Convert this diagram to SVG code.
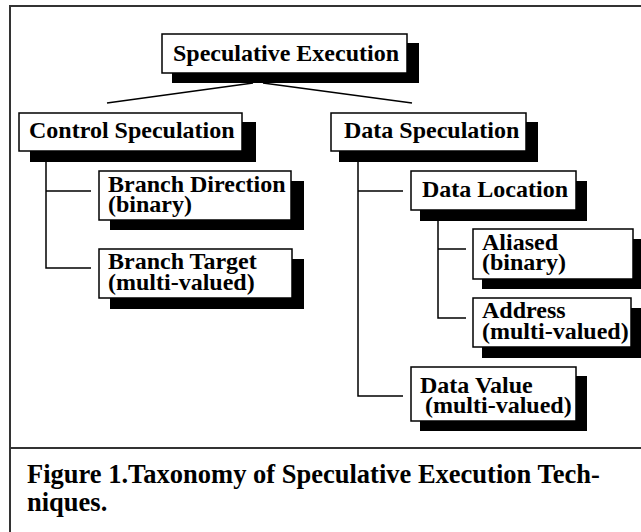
<svg xmlns="http://www.w3.org/2000/svg" width="641" height="532" viewBox="0 0 641 532">
  <style>
    .frame { fill: none; stroke: #333; stroke-width: 2; }
    .box { fill: #fff; stroke: #000; stroke-width: 1.5; }
    .shadow { fill: #000; }
    .conn { fill: none; stroke: #000; stroke-width: 1.5; }
    .label { font-family: "Liberation Serif", "Times New Roman", serif; font-weight: bold; font-size: 24px; fill: #000; }
    .caption { font-family: "Liberation Serif", "Times New Roman", serif; font-weight: bold; font-size: 26.5px; fill: #000; }
  </style>
  <rect width="641" height="532" fill="#fff"/>

  <!-- figure frame and caption separator -->
  <g id="frame">
    <path class="frame" d="M10,540 V6 H650"/>
    <path class="frame" d="M10,448 H650"/>
  </g>

  <!-- tree connectors -->
  <g id="connectors">
    <path class="conn" d="M253,83 L107,103"/>
    <path class="conn" d="M263,83 L412,103"/>
    <path class="conn" d="M46,162 V268 H91 M46,191 H91"/>
    <path class="conn" d="M358,162 V396 H403 M358,191 H403"/>
    <path class="conn" d="M438,221 V318 H466 M438,249 H466"/>
  </g>

  <g id="speculative-execution">
    <rect class="shadow" x="172" y="43" width="247" height="40"/>
    <rect class="box" x="162" y="34" width="245" height="39"/>
    <text class="label" x="173" y="61">Speculative Execution</text>
  </g>

  <g id="control-speculation">
    <rect class="shadow" x="30" y="122" width="226" height="40"/>
    <rect class="box" x="19" y="113" width="223" height="38"/>
    <text class="label" x="29" y="138">Control Speculation</text>
  </g>

  <g id="data-speculation">
    <rect class="shadow" x="339" y="122" width="199" height="40"/>
    <rect class="box" x="331" y="113" width="195" height="38"/>
    <text class="label" x="344" y="138">Data Speculation</text>
  </g>

  <g id="branch-direction">
    <rect class="shadow" x="110" y="181" width="194" height="49"/>
    <rect class="box" x="99" y="171" width="192" height="49"/>
    <text class="label" x="108" y="192">Branch Direction</text>
    <text class="label" x="108" y="212">(binary)</text>
  </g>

  <g id="branch-target">
    <rect class="shadow" x="110" y="259" width="194" height="50"/>
    <rect class="box" x="99" y="249" width="193" height="49"/>
    <text class="label" x="108" y="269">Branch Target</text>
    <text class="label" x="108" y="290">(multi-valued)</text>
  </g>

  <g id="data-location">
    <rect class="shadow" x="420" y="181" width="167" height="40"/>
    <rect class="box" x="411" y="171" width="165" height="39"/>
    <text class="label" x="422" y="197">Data Location</text>
  </g>

  <g id="aliased">
    <rect class="shadow" x="482" y="239" width="163" height="50"/>
    <rect class="box" x="473" y="229" width="160" height="50"/>
    <text class="label" x="482" y="250">Aliased</text>
    <text class="label" x="482" y="270">(binary)</text>
  </g>

  <g id="address">
    <rect class="shadow" x="482" y="308" width="163" height="50"/>
    <rect class="box" x="473" y="298" width="158" height="49"/>
    <text class="label" x="482" y="318">Address</text>
    <text class="label" x="482" y="339">(multi-valued)</text>
  </g>

  <g id="data-value">
    <rect class="shadow" x="420" y="376" width="167" height="55"/>
    <rect class="box" x="411" y="367" width="165" height="54"/>
    <text class="label" x="420" y="393">Data Value</text>
    <text class="label" x="425" y="413">(multi-valued)</text>
  </g>

  <g id="caption">
    <text class="caption" x="27" y="483">Figure 1.Taxonomy of Speculative Execution Tech-</text>
    <text class="caption" x="27" y="511">niques.</text>
  </g>
</svg>
